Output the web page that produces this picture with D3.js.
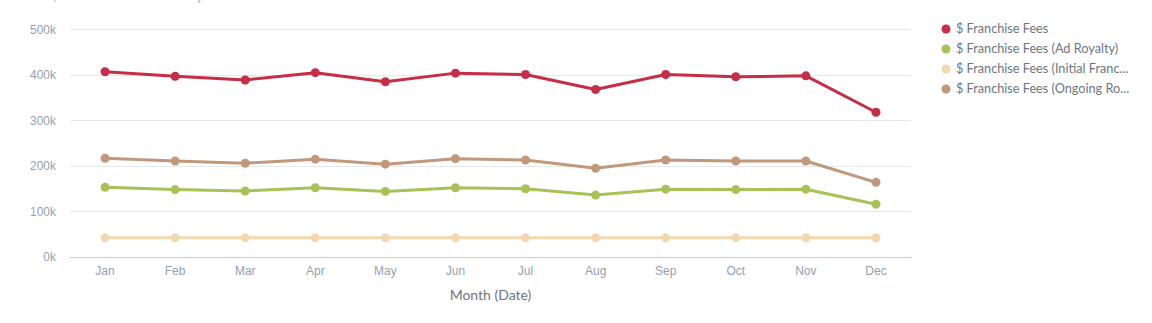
<!DOCTYPE html>
<html><head><meta charset="utf-8">
<script src="https://cdn.jsdelivr.net/npm/d3@7"></script>
<style>
body{margin:0;background:#fff;}
svg{display:block;font-family:Lato,"Open Sans",sans-serif;}
</style></head>
<body><svg id="c" width="1152" height="323"></svg>
<script>
const months = ["Jan","Feb","Mar","Apr","May","Jun","Jul","Aug","Sep","Oct","Nov","Dec"];
const seriesNames = ["$ Franchise Fees","$ Franchise Fees (Ad Royalty)","$ Franchise Fees (Initial Franc...","$ Franchise Fees (Ongoing Ro..."];
const seriesColors = ["#c62d46","#a8c256","#f2d8ae","#c2987a"];
const franchiseFees = [406000,396000,388000,404000,384000,403000,400000,367000,400000,395000,397000,317000];
const adRoyalty = [152000,147000,144000,151000,143000,151000,149000,135000,148000,147000,148000,115000];
const initialFranchise = [41000,41000,41000,41000,41000,41000,41000,41000,41000,41000,41000,41000];
const ongoingRoyalty = [216000,210000,205000,214000,203000,215000,212000,194000,212000,210000,210000,163000];
const yTicks = [0,100000,200000,300000,400000,500000];
const titleText = "$ Franchise Fees by Month";
const xTitle = "Month (Date)";

(function(){
const data = [franchiseFees, adRoyalty, initialFranchise, ongoingRoyalty];
const drawOrder = [2,1,3,0];

const svg = d3.select("#c");
const mLeft = 70, mRight = 911, mTop = 29, mBottom = 256.5;
const x = d3.scaleBand().domain(months).range([mLeft, mRight]);
const y = d3.scaleLinear().domain([0, 500000]).range([mBottom, mTop]);

// title is scrolled almost fully out of view in the reference
svg.append("text").attr("x", 50).attr("y", 0).attr("fill", "#b0b8c0")
  .style("font-size", "18px").text(titleText);

svg.append("g").selectAll("line").data(yTicks.filter(d => d > 0)).join("line")
  .attr("x1", mLeft).attr("x2", mRight)
  .attr("y1", d => Math.round(y(d)) + 0.5).attr("y2", d => Math.round(y(d)) + 0.5)
  .attr("stroke", "#e8e8e8").attr("stroke-width", 1);

const yAxis = d3.axisLeft(y).tickValues(yTicks).tickSize(0).tickPadding(0)
  .tickFormat(d => (d / 1000) + "k");
const yg = svg.append("g").attr("transform", `translate(56,0)`).call(yAxis);
yg.select(".domain").remove();
yg.selectAll("text").attr("fill", "#94a1ad").style("font-size", "12px").attr("dy", "0.35em");

const xAxis = d3.axisBottom(x).tickSize(0).tickPadding(9);
const xg = svg.append("g").attr("transform", `translate(0,${Math.round(mBottom)+0.5})`).call(xAxis);
xg.select(".domain").attr("stroke", "#cccccc").attr("d", `M${mLeft},0H${mRight}`);
xg.selectAll("text").attr("fill", "#94a1ad").style("font-size", "12px");

svg.append("text").attr("x", (mLeft + mRight) / 2).attr("y", 300).attr("text-anchor", "middle")
  .attr("fill", "#6d7680").style("font-size", "14px").text(xTitle);

const line = d3.line().x((d, i) => x(months[i]) + x.bandwidth() / 2).y(d => y(d));
drawOrder.forEach(si => {
  const g = svg.append("g");
  g.append("path").datum(data[si]).attr("d", line).attr("fill", "none")
    .attr("stroke", seriesColors[si]).attr("stroke-width", 3).attr("stroke-linejoin", "round");
  g.selectAll("circle").data(data[si]).join("circle")
    .attr("cx", (d, i) => x(months[i]) + x.bandwidth() / 2).attr("cy", d => y(d))
    .attr("r", 4.5).attr("fill", seriesColors[si]);
});

const lg = svg.append("g");
seriesNames.forEach((n, i) => {
  const yy = 29 + i * 20;
  lg.append("circle").attr("cx", 946).attr("cy", yy).attr("r", 4.5).attr("fill", seriesColors[i]);
  lg.append("text").attr("x", 956).attr("y", yy).attr("dy", "0.35em").attr("fill", "#6d7680")
    .style("font-size", "12.7px").text(n);
});
})();
</script></body></html>
